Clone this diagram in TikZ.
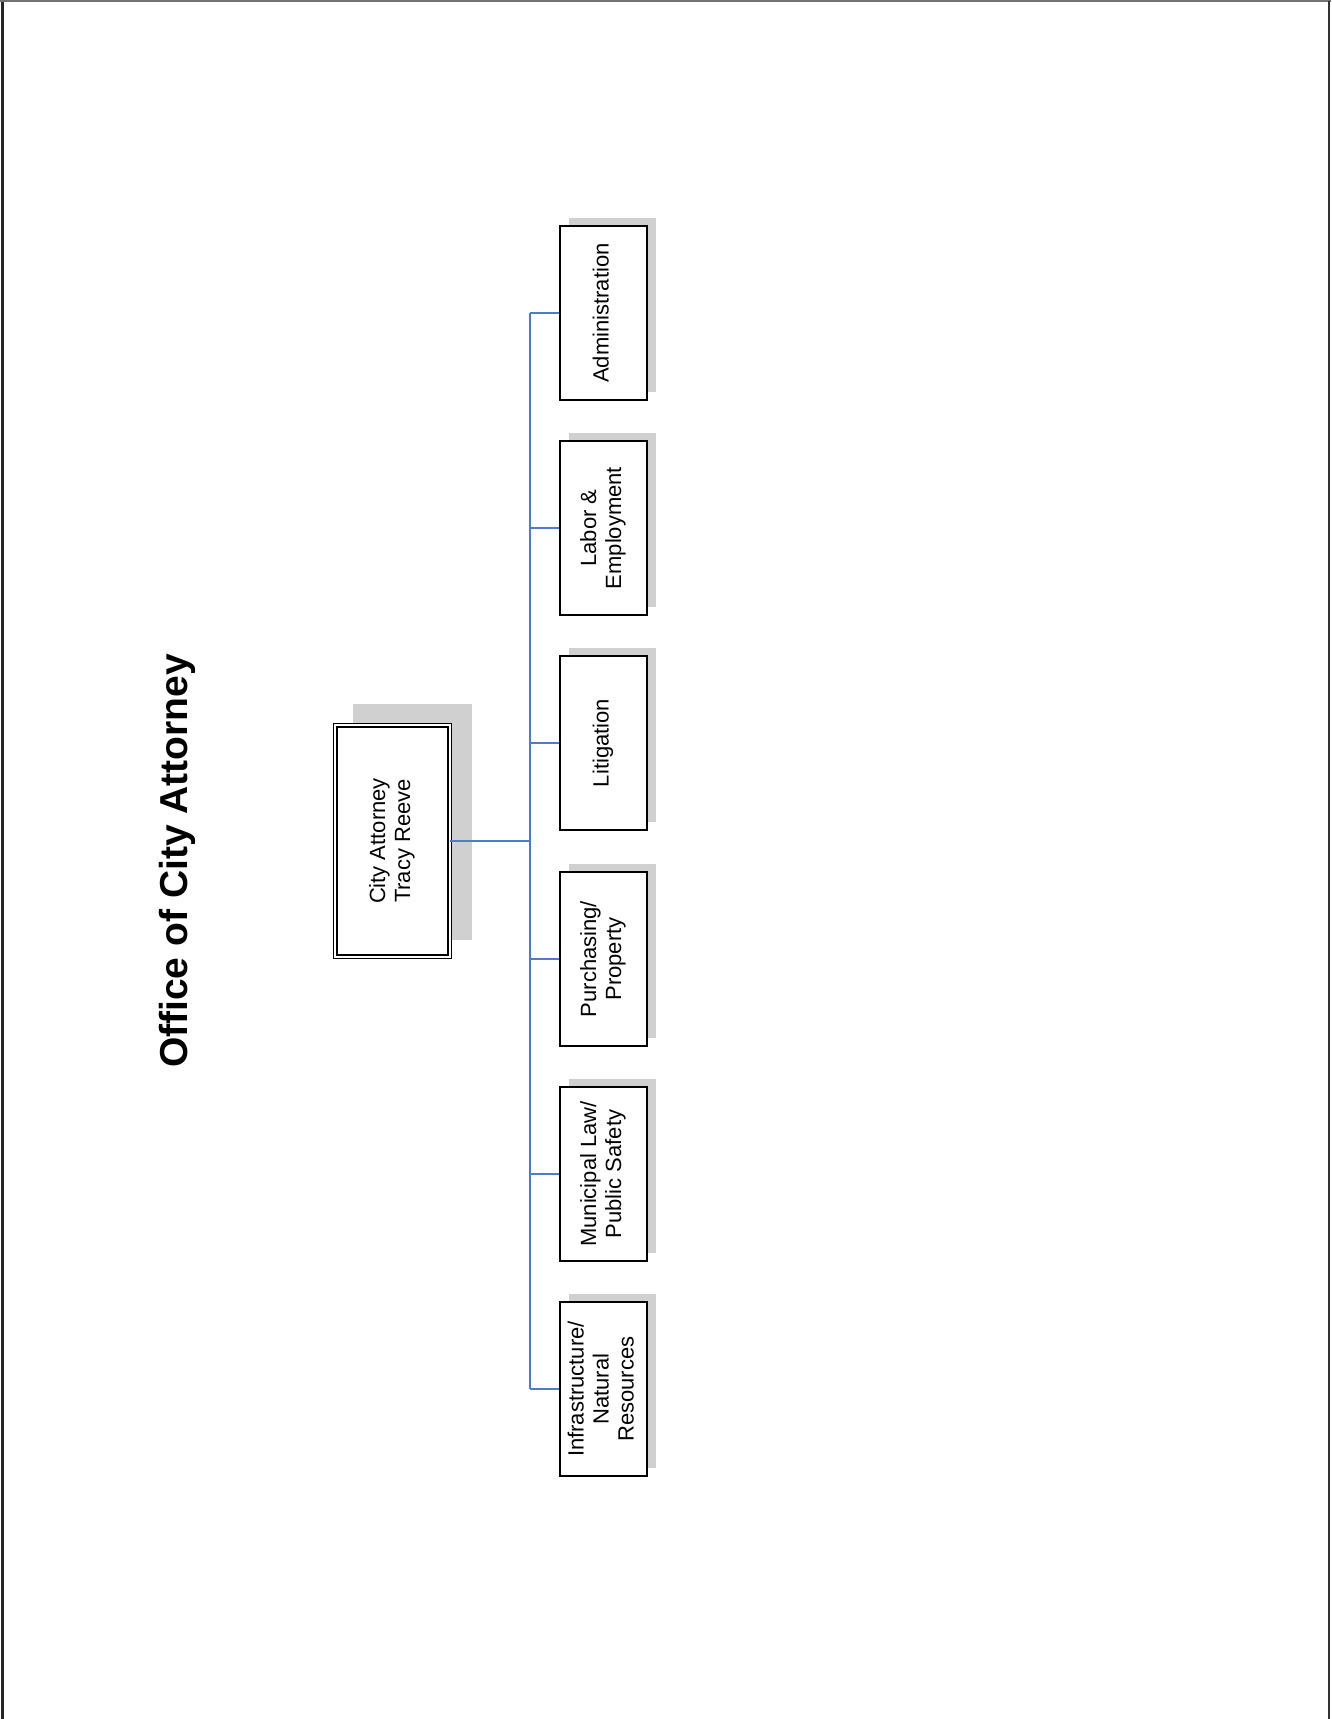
\documentclass[tikz,border=0pt]{standalone}
\usepackage{fontspec}
\setmainfont{Liberation Sans}
\usepackage{graphicx}
\definecolor{conncol}{RGB}{79,123,203}
\definecolor{shadowcol}{RGB}{208,208,208}
\newcommand{\vtext}[1]{\rotatebox{90}{\begin{tabular}{@{}c@{}}#1\end{tabular}}}
\begin{document}
\begin{tikzpicture}[x=1pt,y=-1pt,
  unitbox/.style={draw=black, line width=1.3pt, fill=white, inner sep=0pt,
    minimum width=87pt, minimum height=174pt,
    font=\fontsize{22}{25}\selectfont},
  shadowbox/.style={fill=shadowcol, draw=none, inner sep=0pt},
  headbox/.style={draw=black, line width=1.1pt, double=white, double distance=2.4pt,
    fill=white, inner sep=0pt, minimum width=114.5pt, minimum height=231.5pt,
    font=\fontsize{22}{25}\selectfont},
  conn/.style={draw=conncol, line width=1.3pt},
  mainconn/.style={draw=conncol, line width=2pt},
  titlestyle/.style={font=\fontsize{39}{45}\selectfont\bfseries, inner sep=0pt}
]
\useasboundingbox (0,0) rectangle (1331,1719);
\fill[white] (0,0) rectangle (1331,1719);
% page frame
\coordinate (tl) at (2,1);
\coordinate (tr) at (1329,1);
\coordinate (bl) at (2,1719);
\coordinate (br) at (1329,1719);
\draw[line width=3pt, black!85] (bl) -- (2,0);
\draw[line width=1.5pt, black!55] (0,1) -- (1331,1);
\draw[line width=2pt, black!80] (tr) -- (br);

% title
\node[titlestyle] (title) at (177.5,861) {\rotatebox{90}{Office of City Attorney}};

% head
\node[shadowbox, minimum width=119pt, minimum height=236pt] (cashadow) at (412.5,822) {};
\node[headbox] (ca) at (392.5,841) {\vtext{City Attorney\\Tracy Reeve}};

% children shadows and boxes
\foreach \nm/\yc/\txt in {
  adm/313/{Administration},
  lab/528/{Labor \&\\Employment},
  lit/743/{Litigation},
  pur/959/{Purchasing/\\Property},
  mun/1174/{Municipal Law/\\Public Safety},
  inf/1389/{Infrastructure/\\Natural\\Resources}}{
  \node[shadowbox, minimum width=87pt, minimum height=174pt] (\nm s) at (612,\yc-8.5) {};
  \node[unitbox] (\nm) at (603.5,\yc) {\vtext{\txt}};
}

% bus
\coordinate (btop) at (530,313);
\coordinate (bbot) at (530,1389);
\draw[mainconn] (btop) -- (bbot);
\draw[mainconn] (ca.east) -- (ca.east -| btop);
\foreach \nm in {adm,lab,lit,pur,mun,inf}{
  \draw[conn] (\nm.west -| btop) -- (\nm.west);
}
\end{tikzpicture}
\end{document}
